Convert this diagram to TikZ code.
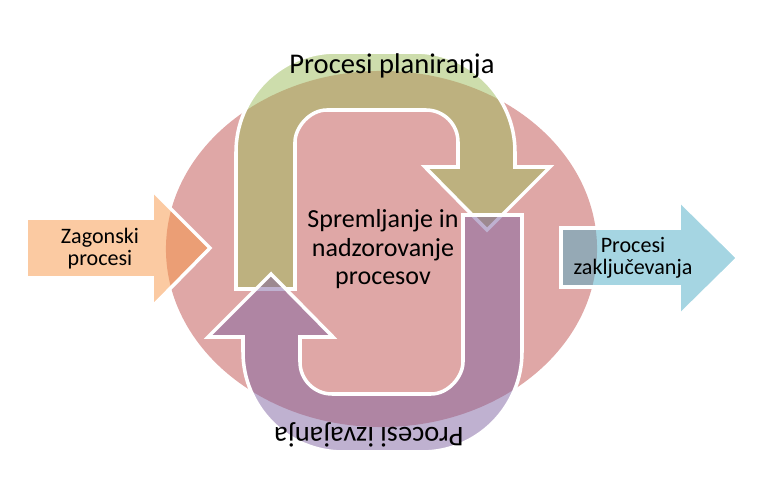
\documentclass[tikz,border=0pt]{standalone}
\usepackage{fontspec}
\setmainfont{Carlito}
\usepackage{xcolor}

\definecolor{hubred}{HTML}{C0504D}
\definecolor{plangreen}{HTML}{9BBB59}
\definecolor{runpurple}{HTML}{8064A2}
\definecolor{startorange}{HTML}{F79646}
\definecolor{closeblue}{HTML}{4BACC6}

\begin{document}
\begin{tikzpicture}[x=0.025cm, y=-0.025cm,
    hub/.style={fill=hubred, fill opacity=0.5},
    loopy/.style={fill opacity=0.5, draw=white, line width=2.5pt, line join=miter},
    side/.style={fill opacity=0.5, draw=white, line width=2.5pt, line join=miter},
    looptext/.style={font=\fontsize{20.3}{24}\selectfont},
    hubtext/.style={align=center, font=\fontsize{18.5}{20.6}\selectfont},
    sidetext/.style={align=center, font=\fontsize{15.7}{16}\selectfont}
  ]
  \useasboundingbox (0,0) rectangle (784,490);

  % middle ellipse
  \path[hub] (381.5,249) ellipse [x radius=5.3875cm, y radius=4.45cm];

  % the two u-turn arrows, second one turned round the middle
  \foreach \ang/\col in {0/plangreen, 180/runpurple}{
    \draw[loopy, fill=\col, rotate around={\ang:(379,252)}]
      (236,289) -- (236,152) .. controls (236,96.8) and (280.8,52) .. (336,52)
      -- (415,52) .. controls (470.2,52) and (515,96.8) .. (515,152)
      -- (515,167) -- (550,167) -- (487,230) -- (425,167) -- (458,167)
      -- (458,142) .. controls (458,124.3) and (443.7,110) .. (426,110)
      -- (327,110) .. controls (309.3,110) and (295,127.7) .. (295,142)
      -- (295,289) -- cycle;
  }

  % in and out arrows
  \draw[side, fill=startorange] (26,218) -- (152,218) -- (152,190) -- (210,248)
    -- (152,307) -- (152,278) -- (26,278) -- cycle;
  \draw[side, fill=closeblue] (561,228) -- (679,228) -- (679,200) -- (738,258)
    -- (679,316) -- (679,287) -- (561,287) -- cycle;

  % labels (base = last line)
  \node[looptext, anchor=base] (plan) at (392,74) {Procesi planiranja};
  \node[looptext, anchor=base, rotate=180] (run) at (369,428) {Procesi izvajanja};
  \node[hubtext, anchor=base] (watch) at (383,285) {Spremljanje in\\nadzorovanje\\procesov};
  \node[sidetext, anchor=base] (start) at (100,266) {Zagonski\\procesi};
  \node[sidetext, anchor=base] (close) at (633,275) {Procesi\\zaključevanja};
\end{tikzpicture}
\end{document}
